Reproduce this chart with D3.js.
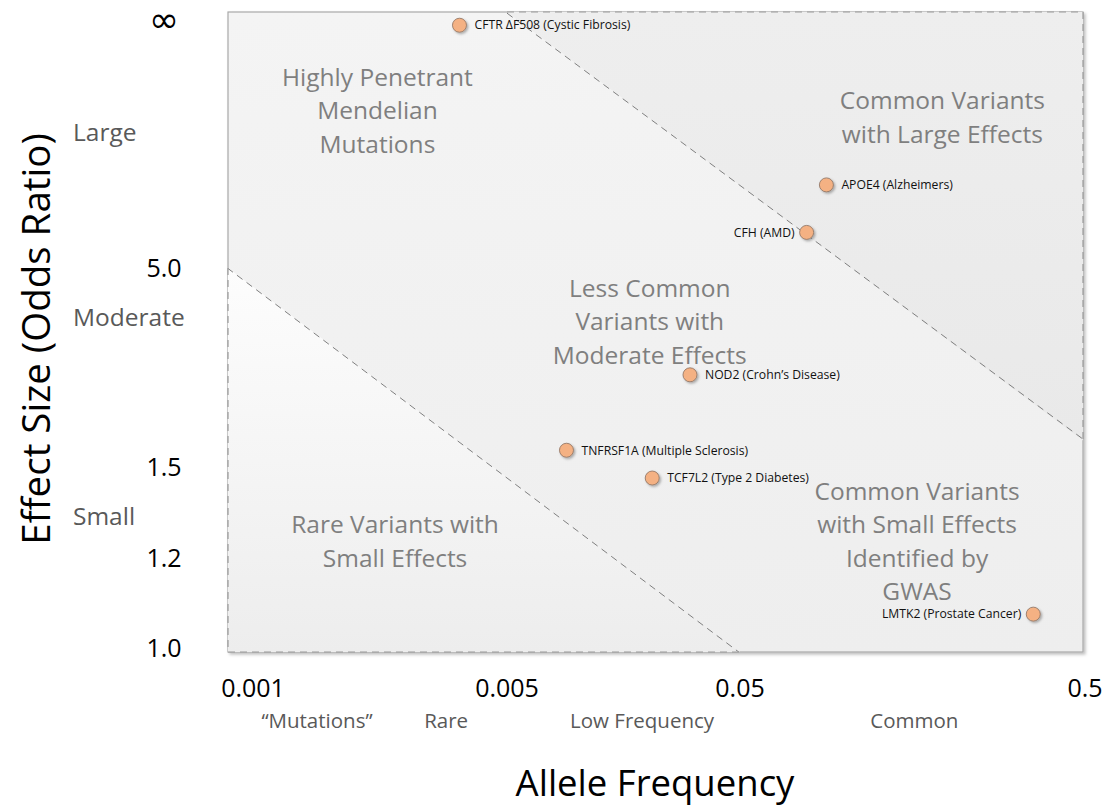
<!DOCTYPE html>
<html>
<head>
<meta charset="utf-8">
<script src="https://cdn.jsdelivr.net/npm/d3@7"></script>
<style>
  html, body { margin: 0; padding: 0; background: #fff; }
  svg { display: block; font-family: "Open Sans", "DejaVu Sans", sans-serif; }
</style>
</head>
<body>
<svg id="chart" width="1105" height="807"></svg>
<script>
// ---------- data ----------
const freqTicks = [0.001, 0.005, 0.05, 0.5];
const freqTickLabels = ["0.001", "0.005", "0.05", "0.5"];
const orTicks = [1.0, 1.2, 1.5, 5.0, 100];
const orTickLabels = ["1.0", "1.2", "1.5", "5.0", "∞"];

const variantNames = ["CFTR ΔF508 (Cystic Fibrosis)", "APOE4 (Alzheimers)", "CFH (AMD)",
  "NOD2 (Crohn’s Disease)", "TNFRSF1A (Multiple Sclerosis)", "TCF7L2 (Type 2 Diabetes)",
  "LMTK2 (Prostate Cancer)"];
const variantFreq = [0.0037, 0.089, 0.078, 0.0305, 0.0090, 0.021, 0.354];
const variantOR = [95, 13.7, 7.7, 2.62, 1.66, 1.46, 1.071];
const variantLabelSide = ["right", "right", "left", "right", "right", "right", "left"];

const freqClassLabels = ["“Mutations”", "Rare", "Low Frequency", "Common"];
const freqClassAt = [0.0015, 0.0034, 0.019, 0.16];
const effectClassLabels = ["Large", "Moderate", "Small"];
const effectClassAt = [26, 3.7, 1.33];

const regionLabels = [
  ["Highly Penetrant", "Mendelian", "Mutations"],
  ["Common Variants", "with Large Effects"],
  ["Less Common", "Variants with", "Moderate Effects"],
  ["Common Variants", "with Small Effects", "Identified by", "GWAS"],
  ["Rare Variants with", "Small Effects"]
];
const regionFreq = [0.0022, 0.193, 0.0205, 0.163, 0.00246];
const regionOR = [33.6, 31, 3.61, 1.25, 1.25];

// boundary lines in (frequency, odds ratio)
const upperBoundary = [[0.005, 110], [0.5, 1.76]];
const lowerBoundary = [[0.00085, 5.0], [0.05, 0.99]];

// ---------- layout ----------
const svg = d3.select("#chart");
const frame = { left: 228, right: 1083, top: 12, bottom: 652 };

const x = d3.scaleLog().domain(freqTicks).range([253, 507, 740, 1085]);
const y = d3.scaleLog().domain(orTicks).range([648, 558, 467, 268, 21]);

const defs = svg.append("defs");
function vGrad(id, c0, c1) {
  const gr = defs.append("linearGradient").attr("id", id)
    .attr("x1", 0).attr("y1", 0).attr("x2", 0).attr("y2", 1);
  gr.append("stop").attr("offset", "0%").attr("stop-color", c0);
  gr.append("stop").attr("offset", "100%").attr("stop-color", c1);
}
vGrad("bgGrad", "#f4f4f4", "#eeeeee");
vGrad("rareGrad", "#fdfdfd", "#ededed");
vGrad("midGrad", "#eeeeee", "#e9e9e9");

const shadow = defs.append("filter").attr("id", "shadow")
  .attr("x", "-10%").attr("y", "-10%").attr("width", "130%").attr("height", "130%");
shadow.append("feDropShadow").attr("dx", 2).attr("dy", 2).attr("stdDeviation", 1.5)
  .attr("flood-color", "#000").attr("flood-opacity", 0.25);

const dotShadow = defs.append("filter").attr("id", "dotShadow")
  .attr("x", "-50%").attr("y", "-50%").attr("width", "200%").attr("height", "200%");
dotShadow.append("feDropShadow").attr("dx", 1.5).attr("dy", 1.5).attr("stdDeviation", 1)
  .attr("flood-color", "#000").attr("flood-opacity", 0.3);

defs.append("clipPath").attr("id", "frameClip").append("rect")
  .attr("x", frame.left).attr("y", frame.top)
  .attr("width", frame.right - frame.left).attr("height", frame.bottom - frame.top);

// frame background
svg.append("rect")
  .attr("x", frame.left).attr("y", frame.top)
  .attr("width", frame.right - frame.left).attr("height", frame.bottom - frame.top)
  .attr("fill", "url(#bgGrad)").attr("stroke", "#a9a9a9").attr("stroke-width", 1.2)
  .attr("filter", "url(#shadow)");

const toPx = seg => seg.map(p => [x(p[0]), y(p[1])]);
const up = toPx(upperBoundary);
const lo = toPx(lowerBoundary);

const g = svg.append("g").attr("clip-path", "url(#frameClip)");

// top-right region
g.append("path")
  .attr("d", d3.line()([[up[0][0], frame.top], [frame.right, frame.top], [frame.right, up[1][1]]]) + "Z")
  .attr("fill", "url(#midGrad)");
// bottom-left region
g.append("path")
  .attr("d", d3.line()([[frame.left, lo[0][1]], [frame.left, frame.bottom], [lo[1][0], frame.bottom]]) + "Z")
  .attr("fill", "url(#rareGrad)");

// dashed borders
const dash = "7,5";
svg.append("path")
  .attr("d", d3.line()([[up[0][0], frame.top], [frame.right, frame.top], [frame.right, up[1][1]]]))
  .attr("fill", "none").attr("stroke", "#9a9a9a").attr("stroke-width", 1.2).attr("stroke-dasharray", dash);
svg.append("path")
  .attr("d", d3.line()([[frame.left, lo[0][1]], [frame.left, frame.bottom], [lo[1][0], frame.bottom]]))
  .attr("fill", "none").attr("stroke", "#9a9a9a").attr("stroke-width", 1.2).attr("stroke-dasharray", dash);
g.append("path").attr("d", d3.line()(up))
  .attr("fill", "none").attr("stroke", "#7f7f7f").attr("stroke-width", 1).attr("stroke-dasharray", dash);
g.append("path").attr("d", d3.line()(lo))
  .attr("fill", "none").attr("stroke", "#7f7f7f").attr("stroke-width", 1).attr("stroke-dasharray", dash);

// region labels
const lineH = 33.5;
regionLabels.forEach((lines, i) => {
  const cx = x(regionFreq[i]);
  const cy = y(regionOR[i]);
  const t = svg.append("text")
    .attr("text-anchor", "middle").attr("fill", "#7f7f7f")
    .attr("font-size", 24.5);
  lines.forEach((ln, j) => {
    t.append("tspan").attr("x", cx)
      .attr("y", cy + (j - (lines.length - 1) / 2) * lineH)
      .attr("dy", "0.35em").text(ln);
  });
});

// points
const pts = svg.append("g");
variantNames.forEach((name, i) => {
  const cx = x(variantFreq[i]), cy = y(variantOR[i]);
  pts.append("circle").attr("cx", cx).attr("cy", cy).attr("r", 7)
    .attr("fill", "#f4b183").attr("stroke", "#8a7060").attr("stroke-width", 0.8)
    .attr("filter", "url(#dotShadow)");
  const right = variantLabelSide[i] === "right";
  pts.append("text")
    .attr("x", right ? cx + 15 : cx - 12).attr("y", cy).attr("dy", "0.35em")
    .attr("text-anchor", right ? "start" : "end")
    .attr("font-size", 12.2).attr("fill", "#111").text(name);
});

// x tick labels
svg.append("g").selectAll("text").data(freqTicks).join("text")
  .attr("x", d => x(d)).attr("y", 688).attr("dy", "0.35em")
  .attr("text-anchor", "middle").attr("font-size", 25).attr("fill", "#000")
  .text((d, i) => freqTickLabels[i]);

// y tick labels
const last = orTicks.length - 1;
svg.append("g").selectAll("text").data(orTicks).join("text")
  .attr("x", 164).attr("y", d => y(d))
  .attr("dy", (d, i) => i === last ? "0.3em" : "0.35em")
  .attr("text-anchor", "middle")
  .attr("font-family", (d, i) => i === last ? "DejaVu Sans" : null)
  .attr("font-size", (d, i) => i === last ? 36 : 25)
  .attr("fill", "#000")
  .text((d, i) => orTickLabels[i]);

// frequency classes
svg.append("g").selectAll("text").data(freqClassAt).join("text")
  .attr("x", d => x(d)).attr("y", 721).attr("dy", "0.35em")
  .attr("text-anchor", "middle").attr("font-size", 20.5).attr("fill", "#595959")
  .text((d, i) => freqClassLabels[i]);

// effect classes
svg.append("g").selectAll("text").data(effectClassAt).join("text")
  .attr("x", 73).attr("y", d => y(d)).attr("dy", "0.35em")
  .attr("text-anchor", "start").attr("font-size", 24.5).attr("fill", "#595959")
  .text((d, i) => effectClassLabels[i]);

// axis titles
svg.append("text").attr("x", 655).attr("y", 783).attr("dy", "0.35em")
  .attr("text-anchor", "middle").attr("font-size", 36.5).attr("fill", "#000")
  .text("Allele Frequency");
svg.append("text")
  .attr("transform", "translate(37,339) rotate(-90)")
  .attr("dy", "0.35em").attr("text-anchor", "middle").attr("font-size", 38.5).attr("fill", "#000")
  .text("Effect Size (Odds Ratio)");
</script>
</body>
</html>
